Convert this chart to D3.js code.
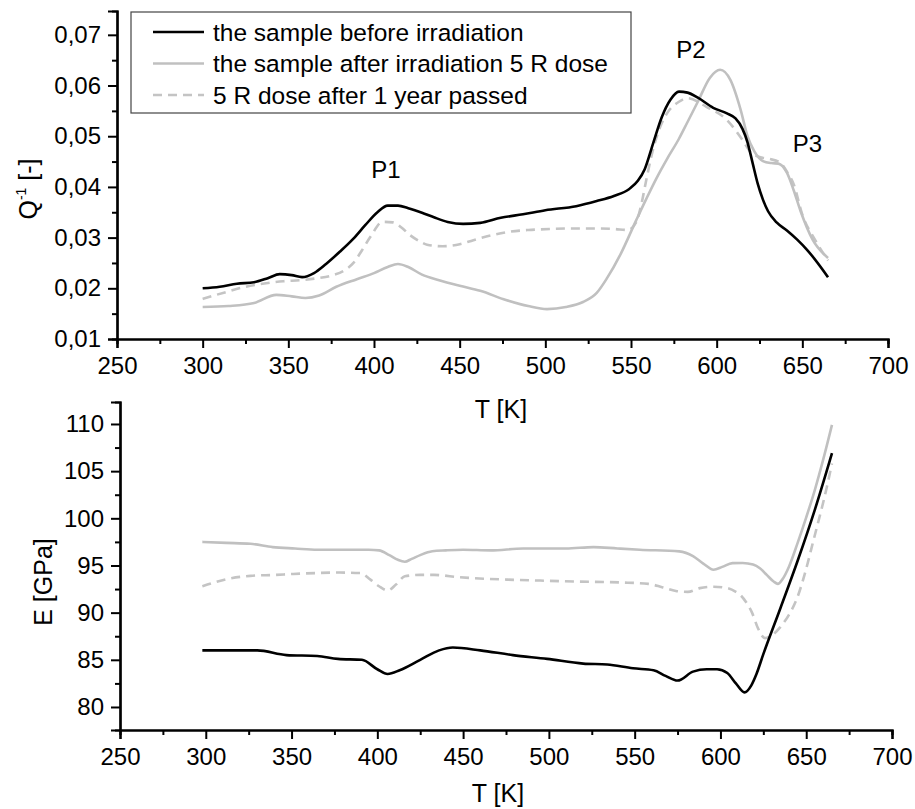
<!DOCTYPE html>
<html>
<head>
<meta charset="utf-8">
<script src="https://cdn.jsdelivr.net/npm/d3@7"></script>
<style>
  body { margin: 0; background: #fff; }
  text { font-family: "Liberation Sans", Arial, sans-serif; fill: #000; }
</style>
</head>
<body>
<svg id="chart" width="915" height="809"></svg>
<script>
// ---- data ----
const seriesNames = [
  "the sample before irradiation",
  "the sample after irradiation 5 R dose",
  "5 R dose after 1 year passed"
];

const tempTicks  = [250, 300, 350, 400, 450, 500, 550, 600, 650, 700];
const qTicks     = [0.01, 0.02, 0.03, 0.04, 0.05, 0.06, 0.07];
const eTicks     = [80, 85, 90, 95, 100, 105, 110];

// internal friction Q^-1 vs T
const qBefore = [[300,0.0200],[310,0.0203],[320,0.0209],[330,0.0212],[338,0.0220],[345,0.0228],[352,0.0226],
  [358,0.0222],[365,0.0230],[372,0.0248],[380,0.0272],[388,0.0298],[395,0.0325],[402,0.0350],[408,0.0363],
  [414,0.0363],[420,0.0358],[428,0.0349],[435,0.0340],[443,0.0331],[452,0.0327],[462,0.0329],[474,0.0339],
  [487,0.0346],[500,0.0354],[518,0.0362],[530,0.0372],[540,0.0382],[549,0.0396],[554,0.0412],[558,0.0435],
  [563,0.0487],[568,0.0538],[573,0.0572],[578,0.0588],[583,0.0586],[589,0.0576],[598,0.0556],[606,0.0545],
  [611,0.0535],[615,0.0515],[618,0.0488],[621,0.0447],[624,0.0406],[627,0.0375],[630,0.0352],[635,0.0330],
  [641,0.0314],[647,0.0296],[653,0.0275],[665,0.0222]];

const qAfter = [[300,0.0163],[315,0.0165],[330,0.0171],[343,0.0187],[352,0.0184],[360,0.0181],[368,0.0186],
  [378,0.0203],[390,0.0218],[400,0.0230],[408,0.0242],[414,0.0248],[420,0.0242],[428,0.0227],[438,0.0216],
  [450,0.0205],[462,0.0195],[477,0.0177],[490,0.0165],[501,0.0159],[512,0.0163],[522,0.0173],[530,0.0191],
  [536,0.0220],[544,0.0268],[553,0.0334],[559,0.0377],[565,0.0418],[571,0.0455],[578,0.0495],[583,0.0528],
  [589,0.0568],[596,0.0615],[602,0.0631],[608,0.0611],[614,0.0552],[618,0.0500],[622,0.0470],[627,0.0451],
  [632,0.0447],[636,0.0446],[641,0.0428],[645,0.0393],[649,0.0352],[656,0.0296],[665,0.0260]];

const qYear = [[300,0.0179],[314,0.0193],[325,0.0203],[337,0.0210],[347,0.0214],[357,0.0216],[367,0.0220],
  [376,0.0226],[383,0.0236],[388,0.0250],[393,0.0275],[398,0.0302],[405,0.0331],[411,0.0330],[416,0.0320],
  [421,0.0305],[426,0.0294],[431,0.0286],[440,0.0283],[450,0.0287],[458,0.0295],[468,0.0304],[478,0.0311],
  [490,0.0315],[503,0.0317],[515,0.0318],[528,0.0318],[540,0.0317],[548,0.0315],[553,0.0330],[556,0.0365],
  [559,0.0415],[562,0.0462],[567,0.0518],[572,0.0550],[578,0.0568],[583,0.0575],[594,0.0558],[606,0.0532],
  [615,0.0493],[620,0.0468],[625,0.0459],[631,0.0455],[637,0.0448],[641,0.0430],[645,0.0405],[650,0.0345],
  [657,0.0298],[665,0.0255]];

// Young's modulus E vs T
const eBefore = [[298,86.0],[310,86.0],[330,86.0],[347,85.5],[365,85.4],[377,85.1],[391,85.0],[400,84.0],
  [406,83.5],[413,83.9],[425,85.0],[436,86.0],[444,86.3],[460,86.0],[479,85.5],[499,85.1],[520,84.6],
  [534,84.5],[549,84.1],[561,83.9],[568,83.3],[575,82.8],[584,83.75],[592,84.0],[598,84.0],[604,83.6],
  [609,82.5],[614,81.55],[618,82.3],[621,83.5],[625,85.6],[635,90.5],[645,95.5],[655,100.9],[665,106.9]];

const eAfter = [[298,97.5],[312,97.4],[326,97.3],[339,96.95],[352,96.8],[365,96.67],[380,96.67],[395,96.67],
  [401,96.6],[407,96.1],[412,95.6],[416,95.4],[420,95.7],[425,96.1],[432,96.5],[440,96.6],[450,96.67],
  [466,96.6],[485,96.8],[510,96.8],[526,96.95],[540,96.8],[553,96.67],[576,96.5],[584,96.0],[590,95.2],
  [596,94.55],[601,94.85],[607,95.25],[613,95.27],[619,95.1],[623,94.7],[627,94.0],[631,93.3],[633.5,93.05],
  [636,93.5],[640,94.9],[645,97.4],[650,100.1],[655,103.0],[660,106.3],[665,109.9]];

const eYear = [[298,92.8],[305,93.2],[312,93.55],[326,93.9],[340,94.0],[351,94.1],[365,94.2],[378,94.25],
  [390,94.2],[396,93.5],[401,92.8],[406,92.35],[411,93.0],[416,93.85],[425,94.0],[433,94.0],[448,93.75],
  [462,93.6],[476,93.5],[495,93.4],[515,93.3],[542,93.2],[558,93.05],[566,92.7],[574,92.3],[581,92.2],
  [588,92.6],[596,92.75],[604,92.6],[609,92.2],[612,91.8],[615,91.1],[618.4,90.0],[622,88.3],[626,87.3],
  [630,87.6],[635,88.5],[640,89.8],[644.6,91.5],[649,94.0],[654,97.5],[662,103.3],[665,105.8]];

// peak labels on the upper panel
const peakLabels = [["P1", 407, 0.0418], ["P2", 585, 0.0655], ["P3", 653, 0.0469]];

// ---- drawing ----
const svg = d3.select("#chart");
const styles = [
  { stroke: "#000", dash: null },
  { stroke: "#c0c0c0", dash: null },
  { stroke: "#c4c4c4", dash: "9,6" }
];
const comma = f => d => d3.format(f)(d).replace(".", ",");

function panel({ xRange, yRange, yDomain, yTicks, yFmt, series }) {
  const x = d3.scaleLinear().domain([250, 700]).range(xRange);
  const y = d3.scaleLinear().domain(yDomain).range(yRange);
  const g = svg.append("g");

  const xMinor = tempTicks.slice(0, -1).map(t => t + 25);
  const yStep = yTicks[1] - yTicks[0];
  const yMinor = d3.range(yTicks[0] - yStep / 2, yDomain[1], yStep).filter(v => v >= yDomain[0] - 1e-9);

  g.append("g").attr("transform", `translate(0,${yRange[0]})`)
    .call(d3.axisBottom(x).tickValues(tempTicks).tickSize(9).tickPadding(9).tickFormat(d3.format("d")));
  g.append("g").attr("transform", `translate(0,${yRange[0]})`)
    .call(d3.axisBottom(x).tickValues(xMinor).tickSize(5).tickFormat(""));
  g.append("g").attr("transform", `translate(${xRange[0]},0)`)
    .call(d3.axisLeft(y).tickValues(yTicks).tickSize(9).tickPadding(7).tickFormat(yFmt));
  g.append("g").attr("transform", `translate(${xRange[0]},0)`)
    .call(d3.axisLeft(y).tickValues(yMinor).tickSize(5).tickFormat(""));

  g.selectAll(".domain").attr("stroke", "#000").attr("stroke-width", 2.2);
  g.selectAll(".tick line").attr("stroke", "#000").attr("stroke-width", 2);
  g.selectAll(".tick text").style("font-size", "24px").style("font-family", '"Liberation Sans", Arial, sans-serif');

  const line = d3.line().x(d => x(d[0])).y(d => y(d[1])).curve(d3.curveMonotoneX);
  // grey ones first so the black line stays on top
  [2, 1, 0].forEach(i => {
    g.append("path").datum(series[i])
      .attr("d", line)
      .attr("fill", "none")
      .attr("stroke", styles[i].stroke)
      .attr("stroke-width", 2.6)
      .attr("stroke-dasharray", styles[i].dash)
      .attr("stroke-linejoin", "round");
  });
  return { g, x, y };
}

const qPanel = panel({
  xRange: [117, 888], yRange: [339, 11], yDomain: [0.01, 0.0747],
  yTicks: qTicks, yFmt: comma(".2f"), series: [qBefore, qAfter, qYear]
});

const ePanel = panel({
  xRange: [120, 892], yRange: [730, 402], yDomain: [77.56, 112.33],
  yTicks: eTicks, yFmt: d3.format("d"), series: [eBefore, eAfter, eYear]
});

// peak labels
qPanel.g.selectAll(".peak").data(peakLabels).join("text")
  .attr("x", d => qPanel.x(d[1])).attr("y", d => qPanel.y(d[2]))
  .attr("text-anchor", "middle").style("font-size", "24px")
  .text(d => d[0]);

// axis titles
svg.append("text").attr("x", 501).attr("y", 418).attr("text-anchor", "middle")
  .style("font-size", "25px").text("T [K]");
svg.append("text").attr("x", 498).attr("y", 802).attr("text-anchor", "middle")
  .style("font-size", "25px").text("T [K]");

const qTitle = svg.append("text").attr("transform", "translate(37,189) rotate(-90)")
  .attr("text-anchor", "middle").style("font-size", "25px");
qTitle.append("tspan").text("Q");
qTitle.append("tspan").attr("dy", -11).style("font-size", "14px").text("-1");
qTitle.append("tspan").attr("dy", 11).text(" [-]");

svg.append("text").attr("transform", "translate(52,582) rotate(-90)")
  .attr("text-anchor", "middle").style("font-size", "25px").text("E [GPa]");

// legend
const lg = svg.append("g");
lg.append("rect").attr("x", 131).attr("y", 12).attr("width", 500).attr("height", 101)
  .attr("fill", "#fff").attr("stroke", "#444").attr("stroke-width", 1.2);
seriesNames.forEach((name, i) => {
  const yy = 32 + i * 31.5;
  lg.append("line").attr("x1", 153).attr("x2", 204).attr("y1", yy).attr("y2", yy)
    .attr("stroke", styles[i].stroke).attr("stroke-width", 2.6)
    .attr("stroke-dasharray", styles[i].dash);
  lg.append("text").attr("x", 213).attr("y", yy).attr("dy", "0.36em")
    .style("font-size", "24.5px").text(name);
});
</script>
</body>
</html>
